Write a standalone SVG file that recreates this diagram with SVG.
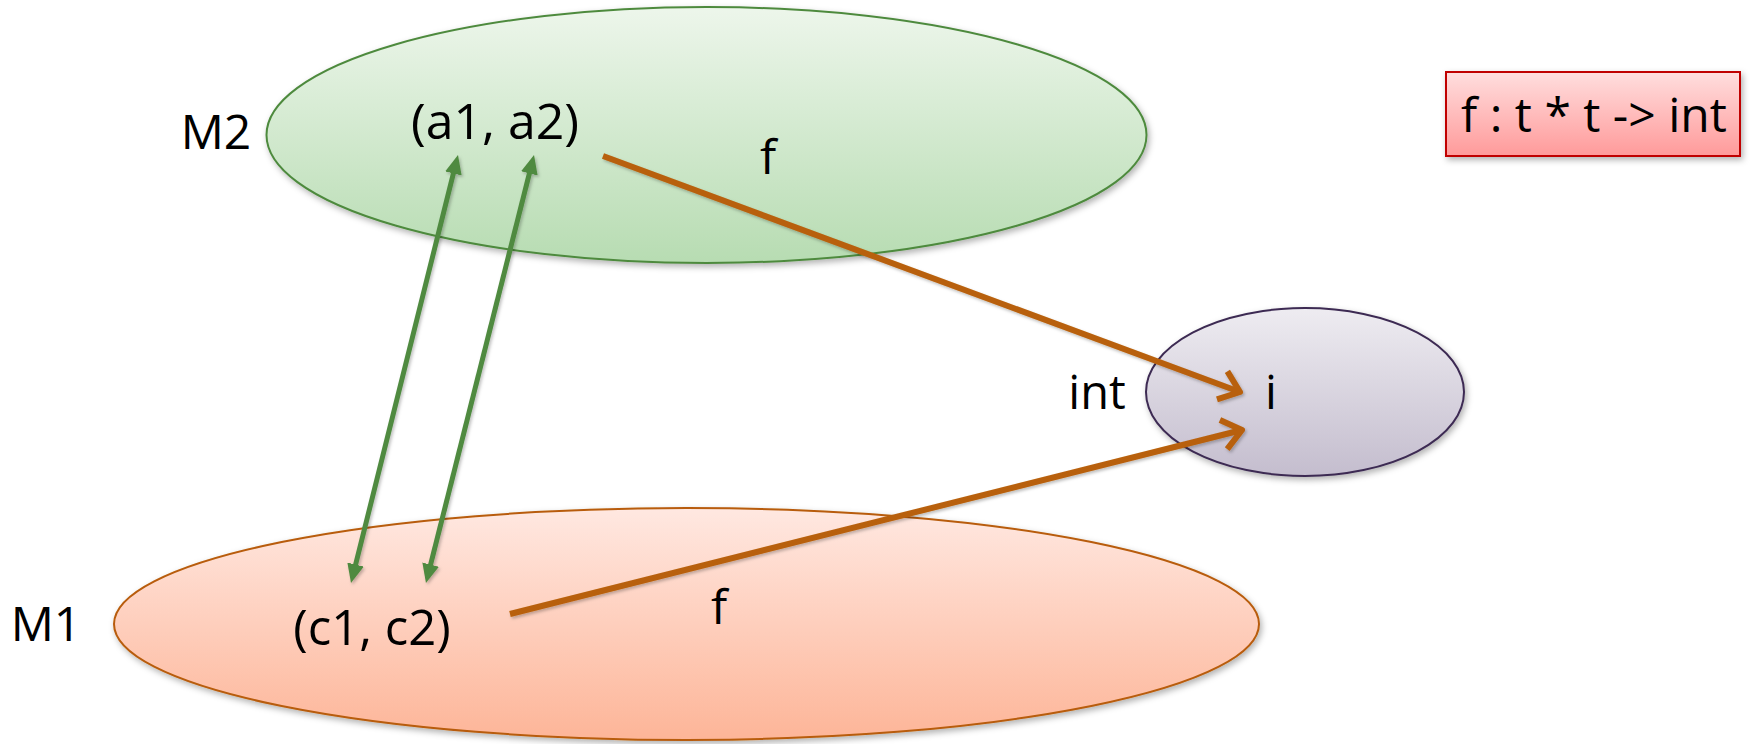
<svg xmlns="http://www.w3.org/2000/svg" width="1760" height="744" viewBox="0 0 1760 744">
<style>
.lbl{font-family:"Open Sans","Liberation Sans",sans-serif;font-size:48px;fill:#000;text-anchor:middle}
.gline{stroke:#4F8A3F;stroke-width:5;fill:none}
.oline{stroke:#B8600A;stroke-width:6;fill:none}
</style>
<defs>
<linearGradient id="gGreen" x1="0" y1="0" x2="0" y2="1"><stop offset="0" stop-color="#EDF6EB"/><stop offset="1" stop-color="#B7DCB2"/></linearGradient>
<linearGradient id="gOrange" x1="0" y1="0" x2="0" y2="1"><stop offset="0" stop-color="#FFE8E1"/><stop offset="1" stop-color="#FDB598"/></linearGradient>
<linearGradient id="gPurple" x1="0" y1="0" x2="0" y2="1"><stop offset="0" stop-color="#EEECF1"/><stop offset="1" stop-color="#C4BDCE"/></linearGradient>
<linearGradient id="gRed" x1="0" y1="0" x2="0" y2="1"><stop offset="0" stop-color="#FFDEDE"/><stop offset="1" stop-color="#FF9A9A"/></linearGradient>
<filter id="shadow" x="-10%" y="-10%" width="120%" height="130%"><feDropShadow dx="2" dy="3" stdDeviation="3" flood-color="#000" flood-opacity="0.3"/></filter>
<filter id="lshadow" x="-10%" y="-10%" width="120%" height="120%"><feDropShadow dx="1.5" dy="2" stdDeviation="1.5" flood-color="#000" flood-opacity="0.25"/></filter>
<marker id="gArrow" markerUnits="userSpaceOnUse" markerWidth="22" markerHeight="18" refX="5" refY="9" orient="auto-start-reverse"><path d="M0,0.5 L19,9 L0,17.5 z" fill="#4F8A3F"/></marker>
<marker id="oArrow" markerUnits="userSpaceOnUse" viewBox="0 0 30 40" markerWidth="30" markerHeight="40" refX="24" refY="20" orient="auto"><path d="M5,5 L24,20 L5,35" fill="none" stroke="#B8600A" stroke-width="6" stroke-linecap="butt" stroke-linejoin="round"/></marker>
</defs>
<rect width="1760" height="744" fill="#fff"/>
<g id="M2">
<ellipse cx="706.5" cy="135" rx="440" ry="128" fill="url(#gGreen)" stroke="#4E8A3E" stroke-width="2" filter="url(#shadow)"/>
<text class="lbl" x="216" y="149">M2</text>
<text class="lbl" x="495" y="139" style="font-size:50px">(a1, a2)</text>
</g>
<g id="M1">
<ellipse cx="686.5" cy="624" rx="572.5" ry="116" fill="url(#gOrange)" stroke="#B85C0A" stroke-width="2" filter="url(#shadow)"/>
<text class="lbl" x="46" y="641">M1</text>
<text class="lbl" x="372" y="645" style="font-size:49px">(c1, c2)</text>
</g>
<g id="INT">
<ellipse cx="1305" cy="392" rx="159" ry="84" fill="url(#gPurple)" stroke="#3C2A52" stroke-width="2" filter="url(#shadow)"/>
<text class="lbl" x="1097" y="409" style="font-size:47px">int</text>
<text class="lbl" x="1271" y="409" style="font-size:47px">i</text>
</g>
<g id="signature">
<rect x="1446" y="72" width="294" height="84" fill="url(#gRed)" stroke="#C00000" stroke-width="2" filter="url(#shadow)"/>
<text class="lbl" x="1594" y="132" style="font-size:48px">f : t * t -&gt; int</text>
</g>
<g id="connectors" filter="url(#lshadow)">
<line class="gline" x1="454.6" y1="168.6" x2="354.4" y2="569.4" marker-start="url(#gArrow)" marker-end="url(#gArrow)"/>
<line class="gline" x1="530.6" y1="168.6" x2="429.4" y2="569.4" marker-start="url(#gArrow)" marker-end="url(#gArrow)"/>
<line class="oline" x1="603" y1="156" x2="1240" y2="392" marker-end="url(#oArrow)"/>
<line class="oline" x1="510" y1="614" x2="1242" y2="430" marker-end="url(#oArrow)"/>
</g>
<g id="edge-labels">
<text class="lbl" x="768" y="174">f</text>
<text class="lbl" x="719" y="624">f</text>
</g>
</svg>
